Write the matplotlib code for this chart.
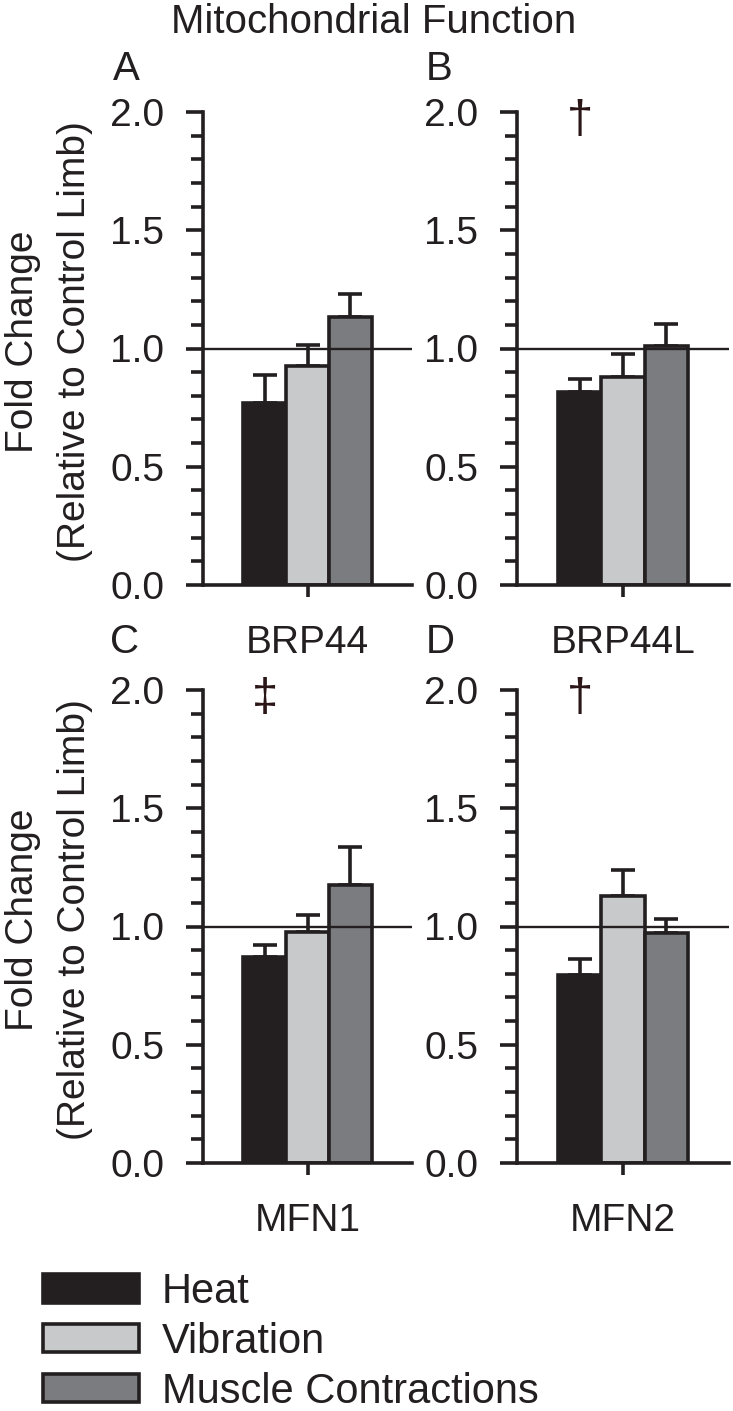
import numpy as np
import matplotlib
matplotlib.use('Agg')
import matplotlib.pyplot as plt
from matplotlib.patches import Patch
from matplotlib.ticker import MultipleLocator

plt.rcParams['font.family'] = ['Liberation Sans', 'DejaVu Sans']

# ---- data ----
genes = ['BRP44', 'BRP44L', 'MFN1', 'MFN2']
panel_letters = ['A', 'B', 'C', 'D']
treatments = ['Heat', 'Vibration', 'Muscle Contractions']
sig_marks = ['', '\u2020', '\u2021', '\u2020']

heat_mean = [0.770, 0.816, 0.870, 0.794]
heat_err = [0.116, 0.056, 0.051, 0.068]
vib_mean = [0.927, 0.878, 0.976, 1.127]
vib_err = [0.087, 0.097, 0.072, 0.114]
musc_mean = [1.135, 1.010, 1.175, 0.971]
musc_err = [0.097, 0.094, 0.161, 0.061]

means = [heat_mean, vib_mean, musc_mean]
errs = [heat_err, vib_err, musc_err]
colors = ['#231f20', '#c8c9cb', '#7b7c7f']
ink = '#231f20'
lw = 2.6

W, H = 733, 1411
fig = plt.figure(figsize=(W / 100, H / 100), dpi=100)

# panel boxes in pixels: left, top, right, bottom
boxes = [(203, 112, 412, 585), (517, 112, 729, 585),
         (203, 690, 412, 1163), (517, 690, 729, 1163)]

bw = 0.41
offsets = np.array([-1, 0, 1]) * bw

for i, gene in enumerate(genes):
    l, t, r, b = boxes[i]
    ax = fig.add_axes([l / W, 1 - b / H, (r - l) / W, (b - t) / H])

    for j in range(3):
        ax.bar(offsets[j], means[j][i], width=bw, color=colors[j],
               edgecolor=ink, linewidth=lw, zorder=2)
        ax.errorbar(offsets[j], means[j][i], yerr=[[0], [errs[j][i]]],
                    fmt='none', ecolor=ink, elinewidth=lw, capsize=8.3,
                    capthick=lw, zorder=1)

    ax.axhline(1.0, color=ink, linewidth=1.7, zorder=3)

    ax.set_xlim(-1, 1)
    ax.set_ylim(0, 2.0)
    for s in ['top', 'right']:
        ax.spines[s].set_visible(False)
    for s in ['left', 'bottom']:
        ax.spines[s].set_linewidth(lw)
        ax.spines[s].set_color(ink)
        ax.spines[s].set_capstyle('projecting')

    ax.yaxis.set_major_locator(MultipleLocator(0.5))
    ax.yaxis.set_minor_locator(MultipleLocator(0.1))
    ax.set_yticklabels([f'{v:.1f}' for v in ax.get_yticks()])
    ax.tick_params(axis='y', which='major', length=12, width=lw, pad=16,
                   labelsize=28, color=ink, labelcolor=ink)
    ax.tick_params(axis='y', which='minor', length=8.4, width=lw, color=ink)

    ax.set_xticks([0])
    ax.set_xticklabels([gene])
    ax.tick_params(axis='x', length=8.6, width=lw, pad=20, labelsize=28,
                   color=ink, labelcolor=ink)

    if sig_marks[i]:
        ax.text(offsets[0], 1.96, sig_marks[i], ha='center', va='center',
                fontsize=34, color='#2a1517')

# panel letters
letter_pos = [(113, 80), (426, 80), (110, 653), (426, 653)]
for (px, py), letter in zip(letter_pos, panel_letters):
    fig.text(px / W, 1 - py / H, letter, ha='left', va='baseline',
             fontsize=29, color=ink)

# y axis labels (left column)
for yc in [342, 920]:
    fig.text(33 / W, 1 - yc / H, 'Fold Change', rotation=90,
             rotation_mode='anchor', ha='center', va='baseline',
             fontsize=28, color=ink)
    fig.text(85 / W, 1 - yc / H, '(Relative to Control Limb)', rotation=90,
             rotation_mode='anchor', ha='center', va='baseline',
             fontsize=28, color=ink)

fig.text(373.5 / W, 1 - 33 / H, 'Mitochondrial Function', ha='center',
         va='baseline', fontsize=29, color=ink)

handles = [Patch(facecolor=c, edgecolor=ink, linewidth=lw, label=t)
           for c, t in zip(colors, treatments)]
fig.legend(handles=handles, loc='upper left',
           bbox_to_anchor=(43 / W, 1 - 1272 / H), fontsize=30,
           frameon=False, handlelength=2.3, handleheight=0.67,
           handletextpad=0.55, labelspacing=0.235, borderpad=0,
           borderaxespad=0, labelcolor=ink)

fig.savefig('out.png', dpi=100)
